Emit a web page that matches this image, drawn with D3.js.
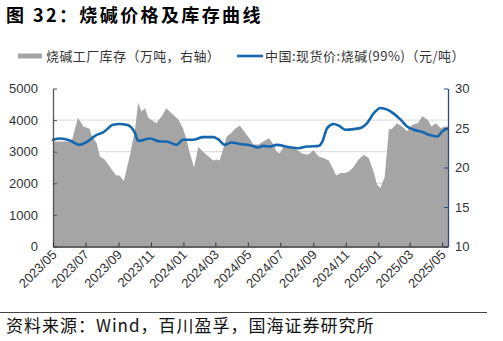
<!DOCTYPE html>
<html>
<head>
<meta charset="utf-8">
<script src="https://cdn.jsdelivr.net/npm/d3@7"></script>
<style>
  html, body { margin: 0; padding: 0; background: #fff; }
  svg { display: block; }
</style>
</head>
<body>
<svg id="chart" width="503" height="341"></svg>
<script>
// 烧碱工厂库存（万吨，右轴）
const stockDates = [
  "2023-05-01","2023-06-05","2023-06-17","2023-06-27","2023-07-09","2023-07-12","2023-07-22","2023-07-28",
  "2023-08-06","2023-08-22","2023-08-28","2023-09-03","2023-09-11","2023-09-22","2023-10-02","2023-10-08",
  "2023-10-14","2023-10-21","2023-10-27","2023-11-02","2023-11-11","2023-11-21","2023-11-30","2023-12-09",
  "2023-12-22","2023-12-31","2024-01-07","2024-01-13","2024-01-21","2024-01-29","2024-02-07","2024-02-17",
  "2024-02-26","2024-03-03","2024-03-09","2024-03-15","2024-03-22","2024-03-31","2024-04-07","2024-04-16",
  "2024-04-26","2024-05-05","2024-05-11","2024-05-21","2024-05-30","2024-06-10","2024-06-18","2024-06-24",
  "2024-06-30","2024-07-07","2024-07-19","2024-07-29","2024-08-10","2024-08-20","2024-08-26","2024-09-01",
  "2024-09-11","2024-09-20","2024-09-30","2024-10-06","2024-10-14","2024-10-22","2024-10-31","2024-11-07",
  "2024-11-16","2024-11-25","2024-12-05","2024-12-14","2024-12-24","2024-12-30","2025-01-05","2025-01-13",
  "2025-01-21","2025-01-27","2025-02-05","2025-02-15","2025-02-24","2025-03-06","2025-03-16","2025-03-25",
  "2025-04-04","2025-04-11","2025-04-19","2025-04-28","2025-05-07","2025-05-12"
];
const stockValues = [
  23.3,23.3,26.3,25.2,24.9,24.1,23.1,21.4,
  21.0,19.5,19.0,19.0,18.3,21.4,24.8,28.2,
  27.1,27.5,26.3,26.0,25.6,26.5,27.5,26.9,
  26.1,25.0,23.5,21.8,20.0,22.6,22.0,21.4,
  20.9,21.0,20.9,22.2,23.9,24.4,24.9,25.3,
  24.4,23.6,22.9,22.9,23.3,23.7,22.9,22.0,
  21.8,22.6,22.7,22.4,21.8,21.6,21.8,22.2,
  21.4,21.2,20.9,20.1,19.0,19.3,19.3,19.5,
  20.1,21.0,21.6,21.2,19.3,17.8,17.4,18.8,
  24.8,24.9,25.6,25.2,24.6,25.4,25.6,26.5,
  26.0,25.2,25.6,25.0,25.2,25.2
];

// 中国:现货价:烧碱(99%)（元/吨）
const priceDates = [
  "2023-05-01","2023-05-14","2023-06-02","2023-06-20","2023-07-03","2023-07-22","2023-08-03","2023-08-22",
  "2023-09-03","2023-09-16","2023-09-25","2023-10-02","2023-10-08","2023-10-30","2023-11-18","2023-11-30",
  "2023-12-19","2023-12-31","2024-01-19","2024-02-07","2024-02-26","2024-03-06","2024-03-19","2024-03-31",
  "2024-04-16","2024-05-05","2024-05-21","2024-05-30","2024-06-11","2024-06-24","2024-07-19","2024-08-04",
  "2024-08-20","2024-09-11","2024-09-18","2024-09-27","2024-10-09","2024-10-19","2024-10-31","2024-11-16",
  "2024-12-01","2024-12-11","2024-12-24","2025-01-05","2025-01-18","2025-01-30","2025-02-12","2025-02-24",
  "2025-03-09","2025-03-25","2025-04-06","2025-04-22","2025-05-01","2025-05-10"
];
const priceValues = [
  3376,3418,3354,3217,3302,3535,3609,3854,
  3875,3854,3768,3588,3344,3418,3322,3322,
  3217,3376,3376,3461,3461,3397,3217,3291,
  3243,3205,3132,3185,3163,3217,3142,3110,
  3163,3185,3322,3747,3875,3822,3694,3715,
  3768,3907,4226,4385,4331,4204,4013,3800,
  3694,3621,3535,3481,3640,3726
];

const leftTicks = [0, 1000, 2000, 3000, 4000, 5000];
const rightTicks = [10, 15, 20, 25, 30];
const gridTicks = [1000, 2000, 3000, 4000];
const dateStart = "2023-05-01";
const dateEnd = "2025-05-12";

const titleText = "图 32：烧碱价格及库存曲线";
const legendStock = "烧碱工厂库存（万吨，右轴）";
const legendPrice = "中国:现货价:烧碱(99%)（元/吨）";
const sourceText = "资料来源：Wind，百川盈孚，国海证券研究所";

const parse = d3.timeParse("%Y-%m-%d");
const stock = stockDates.map((d, i) => ({ date: parse(d), value: stockValues[i] }));
const price = priceDates.map((d, i) => ({ date: parse(d), value: priceValues[i] }));

const svg = d3.select("#chart");
const plot = { left: 53, right: 448, top: 88.5, bottom: 246.5 };
const cjk = "'Noto Sans CJK SC', 'Noto Sans', sans-serif";
const latin = "'Liberation Sans', Arial, sans-serif";

const x = d3.scaleTime().domain([parse(dateStart), parse(dateEnd)]).range([plot.left, plot.right]);
const yL = d3.scaleLinear().domain([0, 5000]).range([plot.bottom, plot.top]);
const yR = d3.scaleLinear().domain([10, 30]).range([plot.bottom, plot.top]);

// Title
svg.append("text")
  .attr("x", 6).attr("y", 22)
  .attr("font-family", cjk).attr("font-size", 18).attr("font-weight", "bold")
  .attr("letter-spacing", 2.4).attr("fill", "#000")
  .text(titleText);

// Legend
const lg = svg.append("g");
lg.append("rect").attr("x", 18).attr("y", 53.5).attr("width", 24).attr("height", 5).attr("fill", "#a5a5a5");
lg.append("text").attr("x", 46).attr("y", 60.5)
  .attr("font-family", cjk).attr("font-size", 13).attr("letter-spacing", 0.4).attr("fill", "#333")
  .text(legendStock);
lg.append("line").attr("x1", 237).attr("x2", 263).attr("y1", 56).attr("y2", 56)
  .attr("stroke", "#1667ad").attr("stroke-width", 2.6);
lg.append("text").attr("x", 265).attr("y", 60.5)
  .attr("font-family", cjk).attr("font-size", 13).attr("letter-spacing", 0.5).attr("fill", "#333")
  .text(legendPrice);

// Gridlines
svg.append("g").selectAll("line").data(gridTicks).join("line")
  .attr("x1", plot.left).attr("x2", plot.right)
  .attr("y1", d => yL(d)).attr("y2", d => yL(d))
  .attr("stroke", "#d9d9d9").attr("stroke-width", 1);

// Inventory area (right axis)
svg.append("path").datum(stock)
  .attr("fill", "#a5a5a5")
  .attr("d", d3.area().x(d => x(d.date)).y0(yR(10)).y1(d => yR(d.value)));

// Price line (left axis)
svg.append("path").datum(price)
  .attr("fill", "none").attr("stroke", "#1667ad").attr("stroke-width", 2.6)
  .attr("stroke-linejoin", "round").attr("stroke-linecap", "round")
  .attr("d", d3.line().x(d => x(d.date)).y(d => yL(d.value)).curve(d3.curveMonotoneX));

// Left axis
const axL = svg.append("g").attr("transform", `translate(${plot.left},0)`)
  .call(d3.axisLeft(yL).tickValues(leftTicks).tickFormat(d3.format("d"))
    .tickSizeInner(-4).tickSizeOuter(0).tickPadding(15));
axL.select(".domain").attr("stroke", "#555").attr("stroke-width", 1.3);
axL.selectAll(".tick line").attr("stroke", "#555");
axL.selectAll("text").attr("font-family", latin).attr("font-size", 13).attr("fill", "#333");

// Right axis
const axR = svg.append("g").attr("transform", `translate(${plot.right},0)`)
  .call(d3.axisRight(yR).tickValues(rightTicks).tickFormat(d3.format("d"))
    .tickSizeInner(-4).tickSizeOuter(0).tickPadding(7));
axR.select(".domain").attr("stroke", "#2f4a86").attr("stroke-width", 1.3);
axR.selectAll(".tick line").attr("stroke", "#2f4a86");
axR.selectAll("text").attr("font-family", latin).attr("font-size", 13).attr("fill", "#333");

// Bottom axis
const xTicks = d3.timeMonth.every(2).range(parse("2023-05-01"), parse("2025-05-02"));
const axB = svg.append("g").attr("transform", `translate(0,${plot.bottom})`)
  .call(d3.axisBottom(x).tickValues(xTicks).tickFormat(d3.timeFormat("%Y/%m"))
    .tickSizeInner(-4).tickSizeOuter(0).tickPadding(0));
axB.select(".domain").attr("stroke", "#333").attr("stroke-width", 1.3);
axB.selectAll(".tick line").attr("stroke", "#333");
axB.selectAll("text")
  .attr("font-family", latin).attr("font-size", 13).attr("fill", "#333")
  .attr("text-anchor", "end").attr("dy", null).attr("y", 0)
  .attr("transform", "translate(4,9) rotate(-45)");

// Footer rule and source
svg.append("line").attr("x1", 0).attr("x2", 487).attr("y1", 312.5).attr("y2", 312.5)
  .attr("stroke", "#444").attr("stroke-width", 1);
svg.append("text").attr("x", 6).attr("y", 332)
  .attr("font-family", cjk).attr("font-size", 17).attr("letter-spacing", 1).attr("fill", "#111")
  .text(sourceText);
</script>
</body>
</html>
